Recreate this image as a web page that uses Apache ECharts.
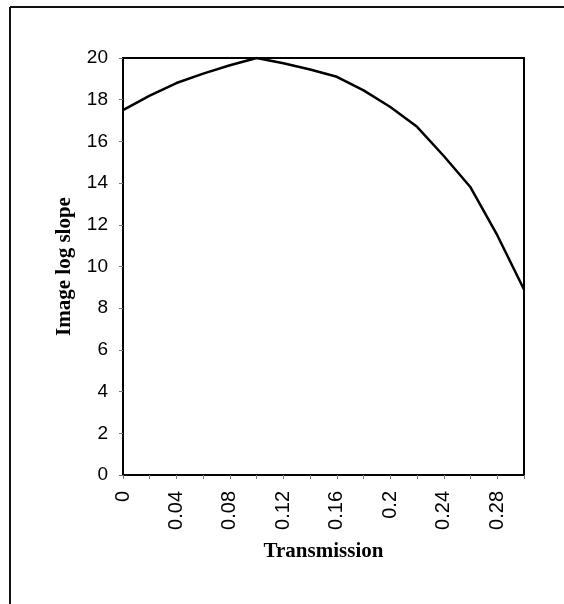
<!DOCTYPE html>
<html>
<head>
<meta charset="utf-8">
<script src="https://cdn.jsdelivr.net/npm/echarts@6/dist/echarts.min.js"></script>
<style>
  html, body { margin: 0; padding: 0; background: #fff; }
  #chart { width: 564px; height: 604px; }
</style>
</head>
<body>
<div id="chart"></div>
<script>
// Transmission values (x) and the resulting image log slope (y)
const transmission = [0, 0.02, 0.04, 0.06, 0.08, 0.10, 0.12, 0.14, 0.16, 0.18, 0.20, 0.22, 0.24, 0.26, 0.28, 0.30];
const imageLogSlope = [17.5, 18.2, 18.8, 19.25, 19.65, 20.0, 19.75, 19.45, 19.1, 18.45, 17.65, 16.7, 15.3, 13.8, 11.5, 8.9];

// Labelled ticks on the transmission axis (minor ticks sit between them)
const xTickLabels = ['0', '0.04', '0.08', '0.12', '0.16', '0.2', '0.24', '0.28'];
const yTickLabels = ['0', '2', '4', '6', '8', '10', '12', '14', '16', '18', '20'];

const chart = echarts.init(document.getElementById('chart'), null, { renderer: 'canvas' });

const points = transmission.map((t, i) => [t, imageLogSlope[i]]);

chart.setOption({
  animation: false,
  backgroundColor: '#ffffff',
  graphic: [
    // open frame around the figure (top and left edges)
    { type: 'line', shape: { x1: 10, y1: 7, x2: 564, y2: 7 }, style: { stroke: '#111', lineWidth: 2 } },
    { type: 'line', shape: { x1: 10, y1: 7, x2: 10, y2: 604 }, style: { stroke: '#111', lineWidth: 2 } }
  ],
  grid: {
    left: 123, right: 40, top: 58, bottom: 129,
    show: true, borderColor: '#000', borderWidth: 2, backgroundColor: 'transparent'
  },
  xAxis: {
    type: 'value',
    min: 0, max: 0.3, interval: 0.02,
    name: 'Transmission',
    nameLocation: 'middle',
    nameGap: 66,
    nameTextStyle: { fontFamily: 'Liberation Serif', fontWeight: 'bold', fontSize: 21, color: '#000' },
    axisLine: { show: true, onZero: false, lineStyle: { color: '#000', width: 2 } },
    axisTick: { show: true, length: 4, lineStyle: { color: '#777', width: 1 } },
    axisLabel: {
      rotate: 90, margin: 16,
      fontFamily: 'Liberation Sans', fontSize: 20, color: '#000',
      formatter: function (v) {
        const k = Math.round(v / 0.02);
        if (k % 2 !== 0) return '';
        return xTickLabels[k / 2] || '';
      }
    },
    splitLine: { show: false }
  },
  yAxis: {
    type: 'value',
    min: 0, max: 20, interval: 2,
    name: 'Image log slope',
    nameLocation: 'middle',
    nameGap: 48,
    nameRotate: 90,
    nameTextStyle: { fontFamily: 'Liberation Serif', fontWeight: 'bold', fontSize: 21, color: '#000' },
    axisLine: { show: true, lineStyle: { color: '#000', width: 2 } },
    axisTick: { show: true, length: 4, lineStyle: { color: '#777', width: 1 } },
    axisLabel: {
      margin: 15,
      fontFamily: 'Liberation Sans', fontSize: 19, color: '#000',
      formatter: function (v) { return yTickLabels[Math.round(v / 2)]; }
    },
    splitLine: { show: false }
  },
  series: [{
    type: 'line',
    data: points,
    showSymbol: false,
    smooth: false,
    lineStyle: { color: '#000', width: 2.5 }
  }]
});
</script>
</body>
</html>
